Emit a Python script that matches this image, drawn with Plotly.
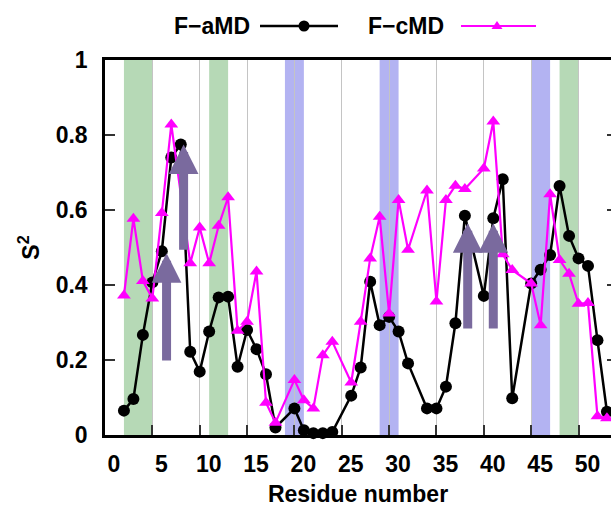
import plotly.graph_objects as go

# ---------------- data ----------------
res_amd = [2, 3, 4, 5, 6, 7, 8, 9, 10, 11, 12, 13, 14, 15, 16, 17, 18, 20, 21, 22, 23, 24,
           26, 27, 28, 29, 30, 31, 32, 34, 35, 36, 37, 38, 40, 41, 42, 43, 45, 46, 47, 48,
           49, 50, 51, 52, 53]
s2_amd = [0.065, 0.096, 0.267, 0.407, 0.49, 0.74, 0.775, 0.222, 0.169, 0.276, 0.367, 0.369,
          0.182, 0.28, 0.229, 0.162, 0.02, 0.071, 0.013, 0.005, 0.005, 0.008,
          0.105, 0.18, 0.409, 0.293, 0.315, 0.276, 0.191, 0.071, 0.071, 0.129, 0.298, 0.585,
          0.371, 0.578, 0.682, 0.098, 0.404, 0.441, 0.48, 0.664, 0.531, 0.471, 0.451, 0.253,
          0.062]

res_cmd = [2, 3, 4, 5, 6, 7, 9, 10, 11, 12, 13, 14, 15, 16, 17, 18, 20, 21, 22, 23, 24,
           26, 27, 28, 29, 30, 31, 32, 34, 35, 36, 37, 38, 40, 41, 42, 43, 45, 46, 47, 48,
           49, 50, 51, 52, 53]
s2_cmd = [0.372, 0.577, 0.411, 0.364, 0.592, 0.828, 0.458, 0.553, 0.458, 0.558, 0.634, 0.278,
          0.302, 0.436, 0.086, 0.033, 0.147, 0.093, 0.071, 0.213, 0.249,
          0.14, 0.302, 0.471, 0.582, 0.324, 0.627, 0.494, 0.652, 0.356, 0.627, 0.665, 0.656,
          0.711, 0.836, 0.482, 0.44, 0.404, 0.293, 0.642, 0.467,
          0.43, 0.35, 0.352, 0.05, 0.045]

# highlighted residue ranges
green_ranges = [(2, 5), (11, 13), (48, 50)]
blue_ranges = [(19, 21), (29, 31), (45, 47)]

# arrows: (residue, tail S2, tip S2)
arrows = [(6.5, 0.195, 0.485), (8.3, 0.49, 0.775), (38.3, 0.28, 0.565), (41.0, 0.28, 0.565)]

x_ticks = [0, 5, 10, 15, 20, 25, 30, 35, 40, 45, 50]
y_ticks = [0, 0.2, 0.4, 0.6, 0.8, 1]
y_tick_text = ["0", "0.2", "0.4", "0.6", "0.8", "1"]

# ---------------- figure ----------------
FONT = "Liberation Sans, Arial, Helvetica, sans-serif"
FS = 23
W, H = 611, 515
ML, MT, MB, MR = 105, 60, 80, 0
PW, PH = W - ML - MR, H - MT - MB

def px2x(px):
    return (px - ML) / PW

def py2y(py):
    return (H - MB - py) / PH

fig = go.Figure()

fig.add_trace(go.Scatter(
    x=res_amd, y=s2_amd, mode="lines+markers", name="F\u2212aMD",
    line=dict(color="black", width=2.5),
    marker=dict(symbol="circle", size=12, color="black"),
    showlegend=False, cliponaxis=False))

fig.add_trace(go.Scatter(
    x=res_cmd, y=s2_cmd, mode="lines+markers", name="F\u2212cMD",
    line=dict(color="#ff00ff", width=2.2),
    marker=dict(symbol="triangle-up", size=12, color="#ff00ff"),
    showlegend=False, cliponaxis=False))

# phantom trace for right-hand mirrored ticks
fig.add_trace(go.Scatter(x=[None], y=[None], yaxis="y2", showlegend=False, hoverinfo="skip"))

shapes = []
for a, b in green_ranges:
    shapes.append(dict(type="rect", xref="x", yref="y domain", x0=a, x1=b, y0=0, y1=1,
                       fillcolor="#b6d9b6", line=dict(width=0), layer="below"))
for a, b in blue_ranges:
    shapes.append(dict(type="rect", xref="x", yref="y domain", x0=a, x1=b, y0=0, y1=1,
                       fillcolor="#b3b3f2", line=dict(width=0), layer="below"))

# legend drawn gnuplot-style (text, then sample)
ly = py2y(26)
shapes.append(dict(type="line", xref="paper", yref="paper", x0=px2x(260), x1=px2x(338),
                   y0=ly, y1=ly, line=dict(color="black", width=2.5)))
shapes.append(dict(type="circle", xref="paper", yref="paper", xsizemode="pixel",
                   ysizemode="pixel", xanchor=px2x(304), yanchor=ly,
                   x0=-5.5, x1=5.5, y0=-5.5, y1=5.5, fillcolor="black",
                   line=dict(color="black", width=0)))
shapes.append(dict(type="line", xref="paper", yref="paper", x0=px2x(461), x1=px2x(536),
                   y0=ly, y1=ly, line=dict(color="#ff00ff", width=2.2)))
shapes.append(dict(type="path", xref="paper", yref="paper", xsizemode="pixel",
                   ysizemode="pixel", xanchor=px2x(497), yanchor=ly,
                   path="M -5.5 -3 L 5.5 -3 L 0 5 Z", fillcolor="#ff00ff",
                   line=dict(color="#ff00ff", width=0)))

annotations = [
    dict(text="F\u2212aMD", xref="paper", yref="paper", x=px2x(252), y=ly,
         xanchor="right", yanchor="middle", showarrow=False,
         font=dict(family=FONT, size=FS, color="black", weight="bold")),
    dict(text="F\u2212cMD", xref="paper", yref="paper", x=px2x(446), y=ly,
         xanchor="right", yanchor="middle", showarrow=False,
         font=dict(family=FONT, size=FS, color="black", weight="bold")),
]
for xr, y0, y1 in arrows:
    annotations.append(dict(x=xr, y=y1, ax=xr, ay=y0, xref="x", yref="y", axref="x", ayref="y",
                            showarrow=True, arrowhead=2, arrowsize=0.66, arrowwidth=9,
                            arrowcolor="#7a6a9e", text="", standoff=0, startstandoff=0))

fig.update_layout(
    width=W, height=H,
    margin=dict(l=ML, r=MR, t=MT, b=MB, pad=0, autoexpand=False),
    paper_bgcolor="white", plot_bgcolor="white",
    font=dict(family=FONT, size=FS, color="black", weight="bold"),
    shapes=shapes, annotations=annotations,
    showlegend=False,
    xaxis=dict(
        range=[0, 53.43], tickvals=x_ticks, ticks="inside", ticklen=10, tickwidth=1.5,
        tickcolor="#333", showgrid=True, gridcolor="#c4c4c4", gridwidth=1,
        showline=True, linecolor="black", linewidth=2.5, mirror=True, automargin=False,
        zeroline=False, ticklabelstandoff=7, ticklabelshift=9,
        title=dict(text="Residue number", standoff=10,
                   font=dict(family=FONT, size=FS, color="black", weight="bold")),
        tickfont=dict(family=FONT, size=FS, color="black", weight="bold"),
    ),
    yaxis=dict(
        range=[0, 1], tickvals=y_ticks, ticktext=y_tick_text, ticks="inside", ticklen=10,
        tickwidth=1.5, tickcolor="#333", showgrid=False, showline=True, linecolor="black",
        linewidth=2.5, mirror=False, zeroline=False, ticklabelstandoff=10, automargin=False,
        title=dict(text="S<sup>2</sup>", standoff=10,
                   font=dict(family=FONT, size=FS, color="black", weight="bold")),
        tickfont=dict(family=FONT, size=FS, color="black", weight="bold"),
    ),
    yaxis2=dict(
        range=[0, 1], overlaying="y", side="right", tickvals=y_ticks, ticks="inside",
        ticklen=4, tickwidth=1.5, tickcolor="#333", showticklabels=False, showgrid=False,
        showline=False, zeroline=False, automargin=False,
    ),
)

fig.write_html("out.html")
